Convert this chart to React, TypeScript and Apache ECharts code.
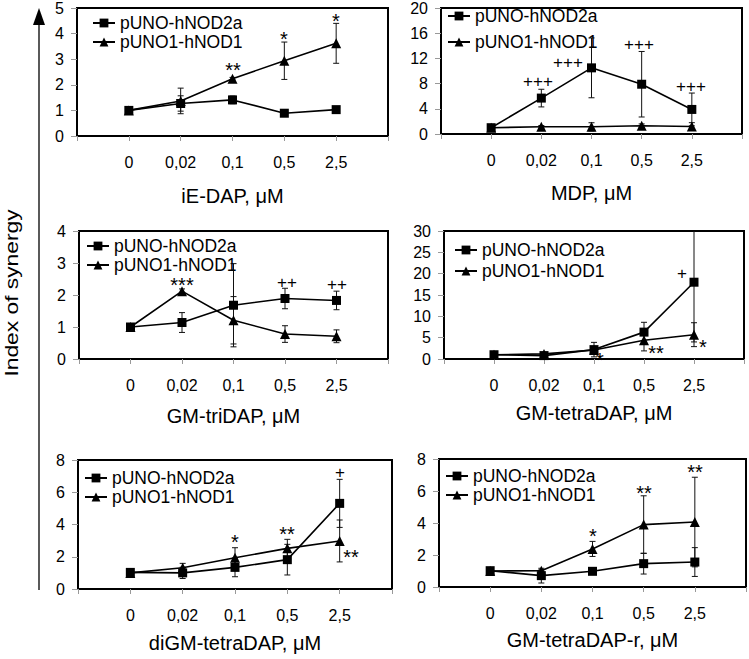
import React, { useEffect, useRef } from "react";
import * as echarts from "echarts";

const FONT = "'Liberation Sans', Arial, sans-serif";

const doses = ["0", "0,02", "0,1", "0,5", "2,5"];
const seriesNames = ["pUNO-hNOD2a", "pUNO1-hNOD1"];
const axisTitles = ["iE-DAP, μM", "MDP, μM", "GM-triDAP, μM", "GM-tetraDAP, μM", "diGM-tetraDAP, μM", "GM-tetraDAP-r, μM"];

// iE-DAP
const ieDapNod2 = [1.0, 1.27, 1.41, 0.89, 1.03];
const ieDapNod2Err = [0, 0.3, 0.15, 0, 0];
const ieDapNod1 = [1.0, 1.37, 2.24, 2.94, 3.62];
const ieDapNod1Err = [0, 0.5, 0.05, 0.73, 0.78];
const ieDapMarks: [number, number, string][] = [[3, 2.79, "**"], [4, 4.0, "*"], [5, 4.69, "*"]];

// MDP
const mdpNod2 = [1.0, 5.7, 10.5, 7.9, 3.9];
const mdpNod2Err = [0, 1.4, 4.75, 5.2, 2.6];
const mdpNod1 = [1.0, 1.14, 1.14, 1.3, 1.2];
const mdpNod1Err = [0, 0.2, 0.65, 0.3, 0.6];
const mdpMarks: [number, number, string][] = [[1.93, 8.36, "+++"], [2.54, 11.45, "+++"], [3.94, 14.29, "+++"], [4.98, 7.69, "+++"]];

// GM-triDAP
const triNod2 = [1.0, 1.14, 1.68, 1.89, 1.83];
const triNod2Err = [0, 0.31, 1.3, 0.32, 0.29];
const triNod1 = [1.0, 2.12, 1.21, 0.78, 0.71];
const triNod1Err = [0, 0.07, 0.74, 0.26, 0.2];
const triMarks: [number, number, string][] = [[2, 2.46, "***"], [4.04, 2.41, "++"], [5.0, 2.34, "++"]];

// GM-tetraDAP
const tetraNod2 = [1.0, 0.8, 2.2, 6.3, 18.0];
const tetraNod2Err = [0, 0.3, 1.7, 2.3, 14];
const tetraNod1 = [1.0, 1.2, 2.1, 4.4, 5.7];
const tetraNod1Err = [0, 0.3, 0.5, 2.5, 2.8];
const tetraMarks: [number, number, string][] = [[4.76, 20.2, "+"], [3.12, 0.94, "*"], [4.23, 2.67, "**"], [5.17, 4.08, "*"]];

// diGM-tetraDAP
const diNod2 = [1.03, 1.0, 1.34, 1.82, 5.31];
const diNod2Err = [0, 0.35, 0.58, 0.95, 1.49];
const diNod1 = [1.0, 1.32, 1.94, 2.52, 2.98];
const diNod1Err = [0, 0.27, 0.62, 0.56, 1.3];
const diMarks: [number, number, string][] = [[3, 3.24, "*"], [4, 3.7, "**"], [5, 7.23, "+"], [5.22, 2.31, "**"]];

// GM-tetraDAP-r
const rNod2 = [1.02, 0.71, 0.98, 1.46, 1.56];
const rNod2Err = [0, 0.46, 0.05, 0.65, 0.9];
const rNod1 = [1.0, 1.02, 2.38, 3.9, 4.06];
const rNod1Err = [0, 0.05, 0.47, 1.8, 2.8];
const rMarks: [number, number, string][] = [[3, 3.48, "*"], [4, 6.19, "**"], [5, 7.5, "**"]];

const yMax = [5, 20, 4, 30, 8, 8];
const yInterval = [1, 4, 1, 5, 2, 2];

const panelData = [
  { nod2: ieDapNod2, nod2Err: ieDapNod2Err, nod1: ieDapNod1, nod1Err: ieDapNod1Err, marks: ieDapMarks },
  { nod2: mdpNod2, nod2Err: mdpNod2Err, nod1: mdpNod1, nod1Err: mdpNod1Err, marks: mdpMarks },
  { nod2: triNod2, nod2Err: triNod2Err, nod1: triNod1, nod1Err: triNod1Err, marks: triMarks },
  { nod2: tetraNod2, nod2Err: tetraNod2Err, nod1: tetraNod1, nod1Err: tetraNod1Err, marks: tetraMarks },
  { nod2: diNod2, nod2Err: diNod2Err, nod1: diNod1, nod1Err: diNod1Err, marks: diMarks },
  { nod2: rNod2, nod2Err: rNod2Err, nod1: rNod1, nod1Err: rNod1Err, marks: rMarks },
];

// layout: [left, top, width, height]
const gridBoxes = [
  [77, 6, 311, 130],
  [441, 6, 301, 128],
  [79, 231, 309, 128],
  [444, 231, 300, 128],
  [78, 460, 314, 129],
  [439, 459, 309, 128],
];
// legend: [left, top, gap]
const legendPos = [
  [92, 14, 1],
  [447, 7, 8],
  [86, 237, 1],
  [454, 241, 3],
  [84, 469, 1],
  [445, 467, 1],
];
const nameGaps = [50, 49, 47, 44, 44, 43];

function errorSeries(i: number, vals: number[], errs: number[]) {
  const max = yMax[i];
  return {
    type: "custom",
    xAxisIndex: i,
    yAxisIndex: i,
    silent: true,
    z: 1,
    itemStyle: { color: "#000" },
    data: vals.map((v, k) => [k + 1, v, errs[k]]),
    renderItem: (params: any, api: any) => {
      const x = api.value(0);
      const y = api.value(1);
      const e = api.value(2);
      if (!e) return { type: "group", children: [] };
      const hiV = Math.min(y + e, max);
      const loV = Math.max(y - e, 0);
      const hi = api.coord([x, hiV]);
      const lo = api.coord([x, loV]);
      const st = { stroke: "#111", lineWidth: 1 };
      const children: any[] = [
        { type: "line", shape: { x1: hi[0], y1: hi[1], x2: lo[0], y2: lo[1] }, style: st },
      ];
      if (y + e <= max) children.push({ type: "line", shape: { x1: hi[0] - 3, y1: hi[1], x2: hi[0] + 3, y2: hi[1] }, style: st });
      if (y - e >= 0) children.push({ type: "line", shape: { x1: lo[0] - 3, y1: lo[1], x2: lo[0] + 3, y2: lo[1] }, style: st });
      return { type: "group", children };
    },
  };
}

function markSeries(i: number, marks: [number, number, string][]) {
  return {
    type: "custom",
    xAxisIndex: i,
    yAxisIndex: i,
    silent: true,
    z: 5,
    itemStyle: { color: "#000" },
    data: marks.map((m) => [m[0], m[1]]),
    renderItem: (params: any, api: any) => {
      const idx = params.dataIndex;
      const text = marks[idx][2];
      const p = api.coord([api.value(0), api.value(1)]);
      const star = text.indexOf("*") >= 0;
      return {
        type: "text",
        x: Math.round(p[0]),
        y: Math.round(p[1] + (star ? 5 : 0)),
        style: {
          text,
          fontSize: star ? 20 : 17,
          fontFamily: FONT,
          fill: "#000",
          align: "center",
          verticalAlign: "middle",
        },
      };
    },
  };
}

export default function App() {
  const ref = useRef<HTMLDivElement>(null);
  useEffect(() => {
    document.body.style.margin = "0";
    if (!ref.current) return;
    const chart = echarts.init(ref.current, undefined, { renderer: "svg" });
    const series: any[] = [];
    panelData.forEach((p, i) => {
      series.push(errorSeries(i, p.nod2, p.nod2Err));
      series.push(errorSeries(i, p.nod1, p.nod1Err));
      series.push({
        type: "line",
        name: seriesNames[0],
        xAxisIndex: i,
        yAxisIndex: i,
        data: p.nod2.map((v, k) => [k + 1, v]),
        symbol: "rect",
        symbolSize: 9,
        showAllSymbol: true,
        lineStyle: { color: "#000", width: 1.6 },
        itemStyle: { color: "#000" },
        z: 3,
      });
      series.push({
        type: "line",
        name: seriesNames[1],
        xAxisIndex: i,
        yAxisIndex: i,
        data: p.nod1.map((v, k) => [k + 1, v]),
        symbol: "triangle",
        symbolSize: 10,
        showAllSymbol: true,
        lineStyle: { color: "#000", width: 1.6 },
        itemStyle: { color: "#000" },
        z: 3,
      });
      series.push(markSeries(i, p.marks));
    });

    const option: any = {
      animation: false,
      backgroundColor: "#fff",
      textStyle: { fontFamily: FONT },
      grid: gridBoxes.map((g) => ({
        left: g[0],
        top: g[1],
        width: g[2],
        height: g[3],
        show: true,
        borderColor: "#000",
        borderWidth: 2,
        backgroundColor: "#fff",
      })),
      xAxis: gridBoxes.map((g, i) => ({
        type: "value",
        gridIndex: i,
        min: 0,
        max: 6,
        interval: 1,
        axisLine: { show: false },
        axisTick: { show: true, length: 5, lineStyle: { color: "#999" } },
        splitLine: { show: false },
        axisLabel: {
          fontSize: 16,
          color: "#000",
          fontFamily: FONT,
          margin: 18,
          showMinLabel: true,
          showMaxLabel: true,
          formatter: (v: number) => doses[v - 1] ?? "",
        },
        name: axisTitles[i],
        nameLocation: "middle",
        nameGap: nameGaps[i],
        nameTextStyle: { fontSize: 20, color: "#000", fontFamily: FONT },
      })),
      yAxis: gridBoxes.map((g, i) => ({
        type: "value",
        gridIndex: i,
        min: 0,
        max: yMax[i],
        interval: yInterval[i],
        axisLine: { show: false },
        axisTick: { show: true, length: 6, lineStyle: { color: "#999" } },
        splitLine: { show: false },
        axisLabel: { fontSize: 16, color: "#000", fontFamily: FONT, margin: 13 },
      })),
      legend: legendPos.map((l) => ({
        data: seriesNames,
        orient: "vertical",
        left: l[0],
        top: l[1],
        itemGap: l[2],
        itemWidth: 22,
        itemHeight: 11,
        padding: 0,
        selectedMode: false,
        textStyle: { fontSize: 17.5, lineHeight: 16, color: "#000", fontFamily: FONT },
      })),
      graphic: [
        { type: "line", shape: { x1: 39, y1: 22, x2: 39, y2: 590 }, style: { stroke: "#000", lineWidth: 1.3 } },
        { type: "polygon", shape: { points: [[33, 25], [39, 8], [45, 25]] }, style: { fill: "#000" } },
        {
          type: "text",
          x: 11,
          y: 293,
          rotation: Math.PI / 2,
          scaleX: 1.2,
          style: {
            text: "Index of synergy",
            fontSize: 19,
            fontFamily: FONT,
            fill: "#000",
            align: "center",
            verticalAlign: "middle",
          },
        },
      ],
      series,
    };
    chart.setOption(option);
    return () => chart.dispose();
  }, []);
  return <div ref={ref} style={{ width: 749, height: 659 }} />;
}
